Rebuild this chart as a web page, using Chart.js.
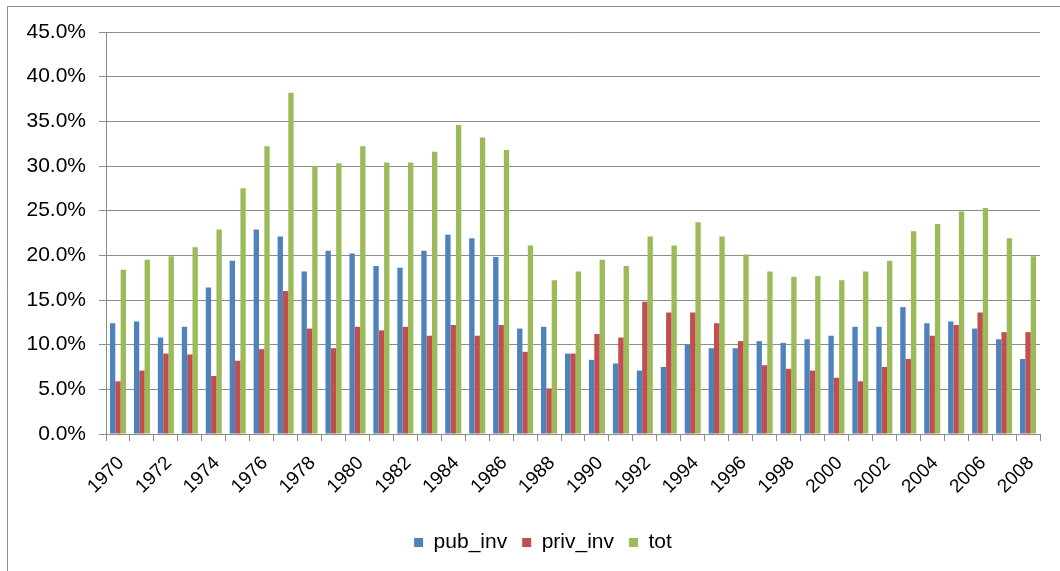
<!DOCTYPE html>
<html>
<head>
<meta charset="utf-8">
<script src="https://cdn.jsdelivr.net/npm/chart.js@4.4.1/dist/chart.umd.min.js"></script>
<style>
  html, body { margin: 0; padding: 0; background: #ffffff; }
  #wrap { width: 1060px; height: 571px; position: relative; }
</style>
</head>
<body>
<div id="wrap"><canvas id="chart"></canvas></div>
<script>
//-----------------------------------------------------------------------------
// data (percent of GDP, 1970 - 2008)
//-----------------------------------------------------------------------------
const years = [];
for (let y = 1970; y <= 2008; y++) years.push(String(y));

const pubInv = [12.4, 12.6, 10.8, 12.0, 16.4, 19.4, 22.9, 22.1, 18.2, 20.5,
                20.2, 18.8, 18.6, 20.5, 22.3, 21.9, 19.8, 11.8, 12.0, 9.0,
                8.3, 7.9, 7.1, 7.5, 10.0, 9.6, 9.6, 10.4, 10.2, 10.6,
                11.0, 12.0, 12.0, 14.2, 12.4, 12.6, 11.8, 10.6, 8.4];
const privInv = [5.9, 7.1, 9.0, 8.9, 6.5, 8.2, 9.5, 16.0, 11.8, 9.6,
                 12.0, 11.6, 12.0, 11.0, 12.2, 11.0, 12.2, 9.2, 5.1, 9.0,
                 11.2, 10.8, 14.8, 13.6, 13.6, 12.4, 10.4, 7.7, 7.3, 7.1,
                 6.3, 5.9, 7.5, 8.4, 11.0, 12.2, 13.6, 11.4, 11.4];
const tot = [18.4, 19.5, 19.9, 20.9, 22.9, 27.5, 32.2, 38.2, 30.0, 30.3,
             32.2, 30.4, 30.4, 31.6, 34.6, 33.2, 31.8, 21.1, 17.2, 18.2,
             19.5, 18.8, 22.1, 21.1, 23.7, 22.1, 20.1, 18.2, 17.6, 17.7,
             17.2, 18.2, 19.4, 22.7, 23.5, 24.9, 25.3, 21.9, 19.9];
const seriesNames = ["pub_inv", "priv_inv", "tot"];
const seriesColors = ["#4F81BD", "#C0504D", "#9BBB59"];

const gridGray = "#8C8C8C";
const font = "'Liberation Sans', Arial, sans-serif";

//-----------------------------------------------------------------------------
// outer frame of the chart (cut off at right and bottom like the picture)
// and a small nudge of the legend so it sits where the original one is
//-----------------------------------------------------------------------------
const framePlugin = {
    id: "frame",
    afterLayout(chart) {
        chart.legend.left += 23;
        chart.legend.right += 23;
    },
    afterDraw(chart) {
        const ctx = chart.ctx;
        ctx.save();
        ctx.strokeStyle = gridGray;
        ctx.lineWidth = 1;
        ctx.beginPath();
        ctx.moveTo(7.5, 571);
        ctx.lineTo(7.5, 6.5);
        ctx.lineTo(1060, 6.5);
        ctx.stroke();
        ctx.restore();
    }
};

const ctx = document.getElementById("chart").getContext("2d");
new Chart(ctx, {
    type: "bar",
    data: {
        labels: years,
        datasets: seriesNames.map((name, i) => ({
            label: name,
            data: [pubInv, privInv, tot][i],
            backgroundColor: seriesColors[i],
            borderWidth: 0,
            categoryPercentage: 0.67,
            barPercentage: 1.0
        }))
    },
    options: {
        responsive: true,
        maintainAspectRatio: false,
        animation: false,
        layout: {
            padding: { top: 32, right: 20, bottom: 8, left: 0 }
        },
        plugins: {
            legend: {
                position: "bottom",
                labels: {
                    boxWidth: 9,
                    boxHeight: 9,
                    padding: 15,
                    color: "#000000",
                    font: { family: font, size: 21 }
                }
            },
            tooltip: { enabled: false }
        },
        scales: {
            x: {
                afterFit: scale => { scale.height = 83; },
                grid: {
                    display: true,
                    drawOnChartArea: false,
                    drawTicks: true,
                    tickLength: 7,
                    color: gridGray
                },
                border: { display: true, color: gridGray },
                ticks: {
                    autoSkip: false,
                    minRotation: 45,
                    maxRotation: 45,
                    labelOffset: 3,
                    padding: 11,
                    color: "#000000",
                    font: { family: font, size: 19 },
                    callback: (v, i) => (i % 2 === 0 ? years[i] : "")
                }
            },
            y: {
                min: 0,
                max: 45,
                afterFit: scale => { scale.width = 106; },
                grid: {
                    color: gridGray,
                    drawTicks: true,
                    tickLength: 7
                },
                border: { display: true, color: gridGray },
                ticks: {
                    stepSize: 5,
                    padding: 13,
                    color: "#000000",
                    font: { family: font, size: 21 },
                    callback: v => v.toFixed(1) + "%"
                }
            }
        }
    },
    plugins: [framePlugin]
});
</script>
</body>
</html>
